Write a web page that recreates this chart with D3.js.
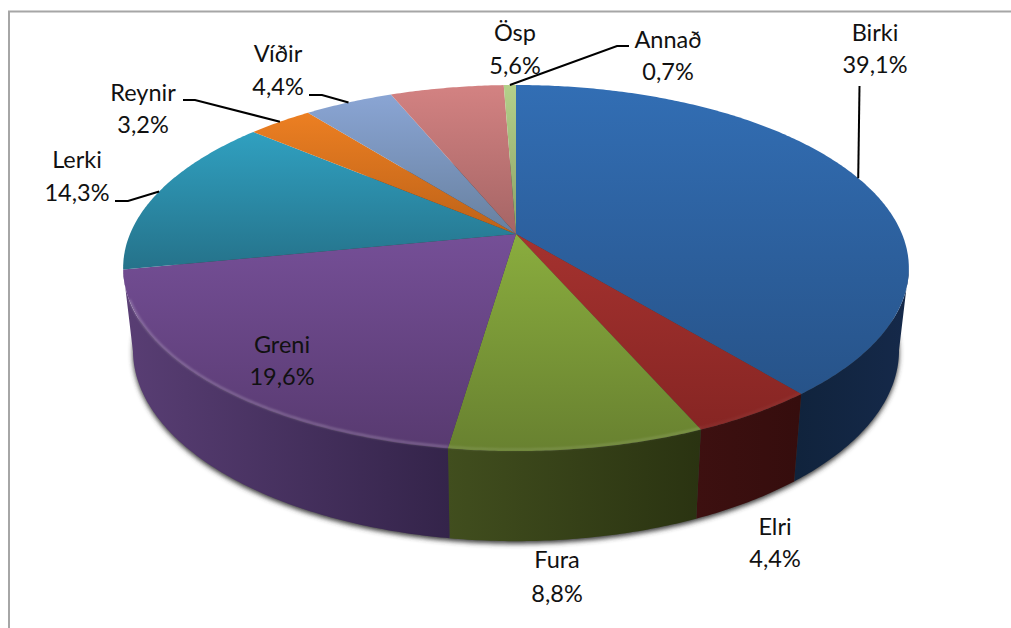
<!DOCTYPE html>
<html><head><meta charset="utf-8">
<style>html,body{margin:0;padding:0;background:#fff}svg{display:block}text{font-family:Lato,"Open Sans",sans-serif;font-size:23.5px;fill:#111;text-anchor:middle}</style>
<script src="https://cdn.jsdelivr.net/npm/d3@7"></script></head><body><svg id="c" width="1011" height="628"></svg>
<script>
const categories=["Birki","Elri","Fura","Greni","Lerki","Reynir","Víðir","Ösp","Annað"];
const values=[39.1,4.4,8.8,19.6,14.3,3.2,4.4,5.6,0.7];
const valueLabels=["39,1%","4,4%","8,8%","19,6%","14,3%","3,2%","4,4%","5,6%","0,7%"];
const faceTop=["#326eb4","#a5322f","#8aad3e","#754f97","#30a0c0","#ec7f22","#8aa5d4","#d38282","#b4d08a"];
const faceBottom=["#275389","#862523","#688130","#583a70","#25728a","#bd6218","#67809f","#a56565","#8ba266"];
const sideLeft=["#10233c","#3d1010","#414e1e","#593e74","#2a6f85","#b05c14","#5a7299","#8d5252","#7f9a5c"];
const sideRight=["#15294a","#350d0d","#2a3311","#34244a","#2a6f85","#b05c14","#5a7299","#8d5252","#7f9a5c"];
const rimOpacity=[0,0.05,0.14,0.26,0,0,0,0,0];
// label placement: centre x, first and second baseline; leader elbow
const labelPos=[[875,41,73],[775,535,567],[557,568,602],[282,353,385],[77,168,201],[143,101,133],[278,62,95],[515,41,74],[668,48,80]];
const elbows=[[[859.5,86]],null,null,null,[[115,201],[128,201]],[[183,100],[195,100]],[[309,95],[322,95]],null,[[629,46],[617,46]]];

// perspective projection of the pie's top disc
const cx=516,R=386,pc=0.186,pa=133.2,apexY=234;
const proj=(t,r=1)=>{const d=1+pc*r*Math.cos(t);return [cx+R*r*Math.sin(t)/d,(apexY-pa*r*Math.cos(t))/d];};
const lower=([x,y])=>[cx+0.975*(x-cx),350+(y-268)*1.044];
const line=d3.line();
const svg=d3.select("#c");
const defs=svg.append("defs");
defs.append("filter").attr("id","sh").attr("x","-5%").attr("y","-5%").attr("width","110%").attr("height","110%")
  .append("feGaussianBlur").attr("stdDeviation",2.6);
defs.append("filter").attr("id","rim").append("feGaussianBlur").attr("stdDeviation",0.9);

const TAU=2*Math.PI;
// shares are percentages of 100, so the printed total of 100.1 is clipped at the full turn
const arcs=d3.pie().sort(null).value(d=>d)(values);
const turn=d3.sum(values)/100;
arcs.forEach(s=>{s.startAngle*=turn;s.endAngle=Math.min(s.endAngle*turn,TAU);});
const arcPts=(a,b)=>{const n=Math.max(2,Math.ceil((b-a)/0.01));return d3.range(n+1).map(i=>proj(a+(b-a)*i/n));};

arcs.forEach((s,i)=>{
  const g=defs.append("linearGradient").attr("id","f"+i).attr("x1",0).attr("y1",0).attr("x2",0).attr("y2",1);
  g.append("stop").attr("offset",0).attr("stop-color",faceTop[i]);
  g.append("stop").attr("offset",1).attr("stop-color",faceBottom[i]);
  const h=defs.append("linearGradient").attr("id","s"+i).attr("x1",0).attr("y1",0).attr("x2",1).attr("y2",0);
  h.append("stop").attr("offset",0).attr("stop-color",sideLeft[i]);
  h.append("stop").attr("offset",1).attr("stop-color",sideRight[i]);
});

// frame
svg.append("path").attr("d","M9,628V11.5H1011").attr("fill","none").attr("stroke","#a6a6a6").attr("stroke-width",2);

// visible wall runs from one silhouette tangent to the end of the last front slice
const wallA=Math.acos(-pc), wallB=arcs[3].endAngle;

// shadow
const ring=arcPts(0,TAU).map(lower);
svg.append("path").attr("d",line(ring)+"Z").attr("transform","translate(0,2.5)").attr("fill","#3a3a3a").attr("filter","url(#sh)");

// side walls
const front=arcs.filter(s=>s.startAngle<wallB&&s.endAngle>wallA);
svg.append("g").selectAll("path").data(front).join("path")
  .attr("d",s=>{const p=arcPts(Math.max(s.startAngle,wallA),Math.min(s.endAngle,wallB));return line(p.concat(p.slice().reverse().map(lower)))+"Z";})
  .attr("fill",s=>`url(#s${s.index})`);

// top faces
svg.append("g").selectAll("path").data(arcs).join("path")
  .attr("d",s=>line([proj(0,0)].concat(arcPts(s.startAngle,s.endAngle)))+"Z")
  .attr("fill",s=>`url(#f${s.index})`);

// bevel along the front rim
svg.append("g").attr("filter","url(#rim)").selectAll("path")
  .data(front.filter(s=>rimOpacity[s.index]>0)).join("path")
  .attr("d",s=>line(arcPts(Math.max(s.startAngle,wallA),Math.min(s.endAngle,4.35)).map(([x,y])=>[x,y-1.5])))
  .attr("fill","none").attr("stroke","#fff").attr("stroke-opacity",s=>rimOpacity[s.index]).attr("stroke-width",2);

// leader lines
arcs.forEach((s,i)=>{
  if(!elbows[i])return;
  const m=(s.startAngle+s.endAngle)/2;
  svg.append("path").attr("d",line(elbows[i].concat([proj(m)])))
    .attr("fill","none").attr("stroke","#000").attr("stroke-width",2);
});

// labels
categories.forEach((c,i)=>{
  const [x,y1,y2]=labelPos[i];
  svg.append("text").attr("x",x).attr("y",y1).text(c);
  svg.append("text").attr("x",x).attr("y",y2).text(valueLabels[i]);
});
</script></body></html>
